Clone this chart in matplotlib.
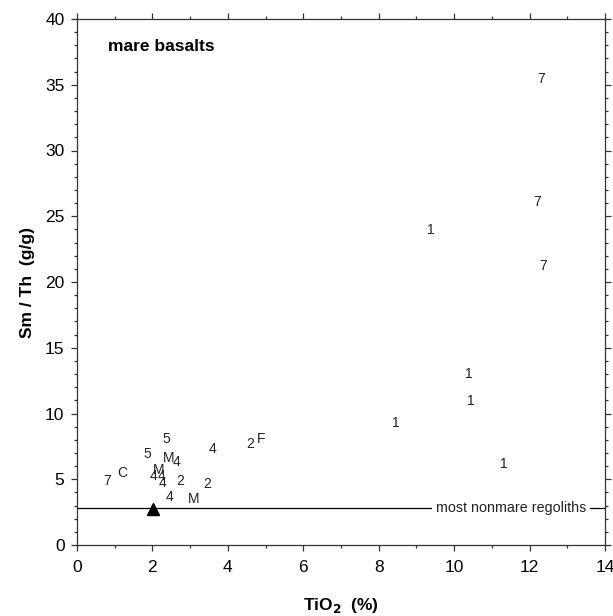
import matplotlib
matplotlib.use("Agg")
import matplotlib.pyplot as plt
from matplotlib.ticker import MultipleLocator

plt.rcParams['font.family'] = ['Liberation Sans', 'DejaVu Sans']

# data points plotted as text symbols
labels = ['7', '7', '7', '1', '1', '1', '1', '1',
          '2', 'F', '4', '5', '5', 'M', '4', 'C', '7', 'M',
          '4', '4', '4', '2', '2', '4', 'M']
tio2 = [12.31, 12.21, 12.37, 9.38, 10.38, 10.43, 8.46, 11.33,
        4.59, 4.88, 3.58, 2.36, 1.86, 2.44, 2.63, 1.19, 0.80, 2.17,
        2.02, 2.23, 2.28, 2.73, 3.45, 2.44, 3.10]
smth = [35.4, 26.1, 21.2, 23.95, 13.0, 10.95, 9.28, 6.16,
        7.68, 8.06, 7.3, 8.06, 6.92, 6.62, 6.31, 5.48, 4.87, 5.7,
        5.25, 5.25, 4.71, 4.87, 4.64, 3.65, 3.5]

# nonmare regolith reference
nonmare_level = 2.8
tri_x = [2.02]
tri_y = [2.72]

fig = plt.figure(figsize=(6.13, 6.16), dpi=100)
ax = fig.add_axes([77/613, 1-545/616, 528/613, 526/616])
ax.set_xlim(0, 14)
ax.set_ylim(0, 40)

for lab, x, y in zip(labels, tio2, smth):
    ax.text(x, y, lab, ha='center', va='center', fontsize=10, color='#222222')

ax.axhline(nonmare_level, color='black', lw=0.9)
ax.text(11.51, nonmare_level, 'most nonmare regoliths', ha='center', va='center',
        fontsize=10.3, color='#222222',
        bbox=dict(facecolor='white', edgecolor='none', pad=3))
ax.plot(tri_x, tri_y, marker='^', color='black', markersize=8.5, linestyle='none')

ax.text(0.82, 37.9, 'mare basalts', ha='left', va='center', fontsize=12.5, fontweight='bold')

ax.xaxis.set_major_locator(MultipleLocator(2))
ax.xaxis.set_minor_locator(MultipleLocator(1))
ax.yaxis.set_major_locator(MultipleLocator(5))
ax.yaxis.set_minor_locator(MultipleLocator(1))
ax.tick_params(which='both', direction='out', top=True, right=True, width=0.9, color='#333333')
ax.tick_params(which='major', length=4, labelsize=12.5)
ax.tick_params(axis='x', which='major', pad=7)
ax.tick_params(axis='y', which='major', pad=5)
ax.tick_params(which='minor', length=2.5)
for s in ax.spines.values():
    s.set_linewidth(0.9)
    s.set_color('#333333')

ax.set_xlabel('TiO$_\\mathbf{2}$  (%)', fontsize=12.5, fontweight='bold', labelpad=15)
ax.set_ylabel('Sm / Th  (g/g)', fontsize=12.5, fontweight='bold', labelpad=7)

fig.savefig('out.png', dpi=100)
